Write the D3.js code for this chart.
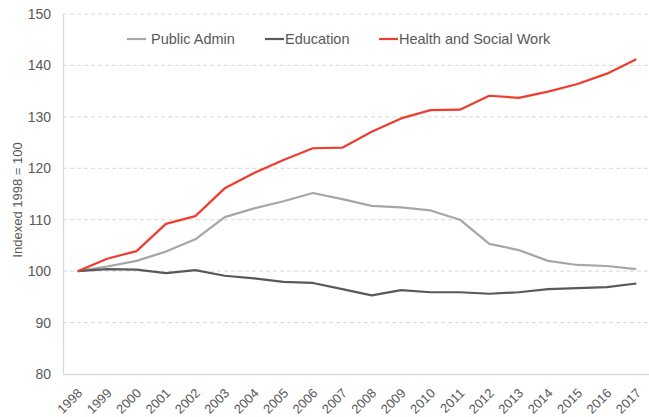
<!DOCTYPE html>
<html><head><meta charset="utf-8">
<script src="https://cdn.jsdelivr.net/npm/d3@7"></script>
<style>body{margin:0;background:#fff;} text{font-family:"Liberation Sans",Arial,sans-serif;}</style>
</head><body><svg id="c" width="649" height="417"></svg>
<script>
const years = ["1998","1999","2000","2001","2002","2003","2004","2005","2006","2007","2008","2009","2010","2011","2012","2013","2014","2015","2016","2017"];
const publicAdmin = [100,100.9,102.0,103.8,106.2,110.5,112.2,113.6,115.2,114.0,112.7,112.4,111.8,110.0,105.3,104.1,102.0,101.2,101.0,100.4];
const education = [100,100.4,100.3,99.6,100.2,99.1,98.6,97.9,97.7,96.5,95.3,96.3,95.9,95.9,95.6,95.9,96.5,96.7,96.9,97.6];
const health = [100,102.4,103.9,109.2,110.7,116.1,119.1,121.6,123.9,124.0,127.1,129.7,131.3,131.4,134.1,133.7,134.9,136.4,138.4,141.2];
const yTicks = [80,90,100,110,120,130,140,150];
const seriesNames = ["Public Admin","Education","Health and Social Work"];
const seriesColors = ["#a6a6a6","#595959","#f03c2e"];

(function(){
const svg = d3.select("#c");
const mLeft = 63, mRight = 651, mTop = 14, mBottom = 374;
const x = d3.scalePoint().domain(years).range([mLeft, mRight]).padding(0.5);
const y = d3.scaleLinear().domain([80,150]).range([mBottom, mTop]);

// gridlines
svg.append("g").selectAll("line").data(yTicks.filter(d=>d>80)).join("line")
  .attr("x1", mLeft).attr("x2", 649).attr("y1", d=>y(d)).attr("y2", d=>y(d))
  .attr("stroke","#d9d9d9").attr("stroke-width",1).attr("stroke-dasharray","4,3");

// axes
const yAxis = d3.axisLeft(y).tickValues(yTicks).tickSize(0).tickPadding(12);
const gy = svg.append("g").attr("transform",`translate(${mLeft},0)`).call(yAxis);
gy.select(".domain").attr("stroke","#d9d9d9").attr("stroke-width",1.3);
gy.selectAll("text").attr("font-size",14).attr("fill","#595959").style("font-family","Liberation Sans, Arial, sans-serif");

const xAxis = d3.axisBottom(x).tickSize(0).tickPadding(0);
const gx = svg.append("g").attr("transform",`translate(0,${mBottom})`).call(xAxis);
gx.select(".domain").attr("d",`M${mLeft},0.5H649`).attr("stroke","#d9d9d9").attr("stroke-width",1.3);
gx.selectAll("text").attr("font-size",13).attr("fill","#595959")
  .attr("text-anchor","end").attr("dy",null).attr("y",0)
  .attr("transform","translate(5,20) rotate(-45)")
  .style("font-family","Liberation Sans, Arial, sans-serif");

// y label
svg.append("text").attr("transform","translate(22,200) rotate(-90)")
  .attr("text-anchor","middle").attr("font-size",13).attr("fill","#595959")
  .text("Indexed 1998 = 100");

// lines
const data = [publicAdmin, education, health];
const line = d3.line().x((d,i)=>x(years[i])).y(d=>y(d));
svg.append("g").selectAll("path").data(data).join("path")
  .attr("d", line).attr("fill","none")
  .attr("stroke",(d,i)=>seriesColors[i]).attr("stroke-width",2.2)
  .attr("stroke-linejoin","round");

// legend
const legX = [127,265,379];
const lg = svg.append("g").selectAll("g").data(seriesNames).join("g")
  .attr("transform",(d,i)=>`translate(${legX[i]},39)`);
lg.append("line").attr("x1",0).attr("x2",19).attr("y1",0).attr("y2",0)
  .attr("stroke",(d,i)=>seriesColors[i]).attr("stroke-width",2.2);
lg.append("text").attr("x",(d,i)=> i===0 ? 24 : 20).attr("y",5)
  .attr("font-size",14.5).attr("fill","#595959").text(d=>d);
})();
</script></body></html>
